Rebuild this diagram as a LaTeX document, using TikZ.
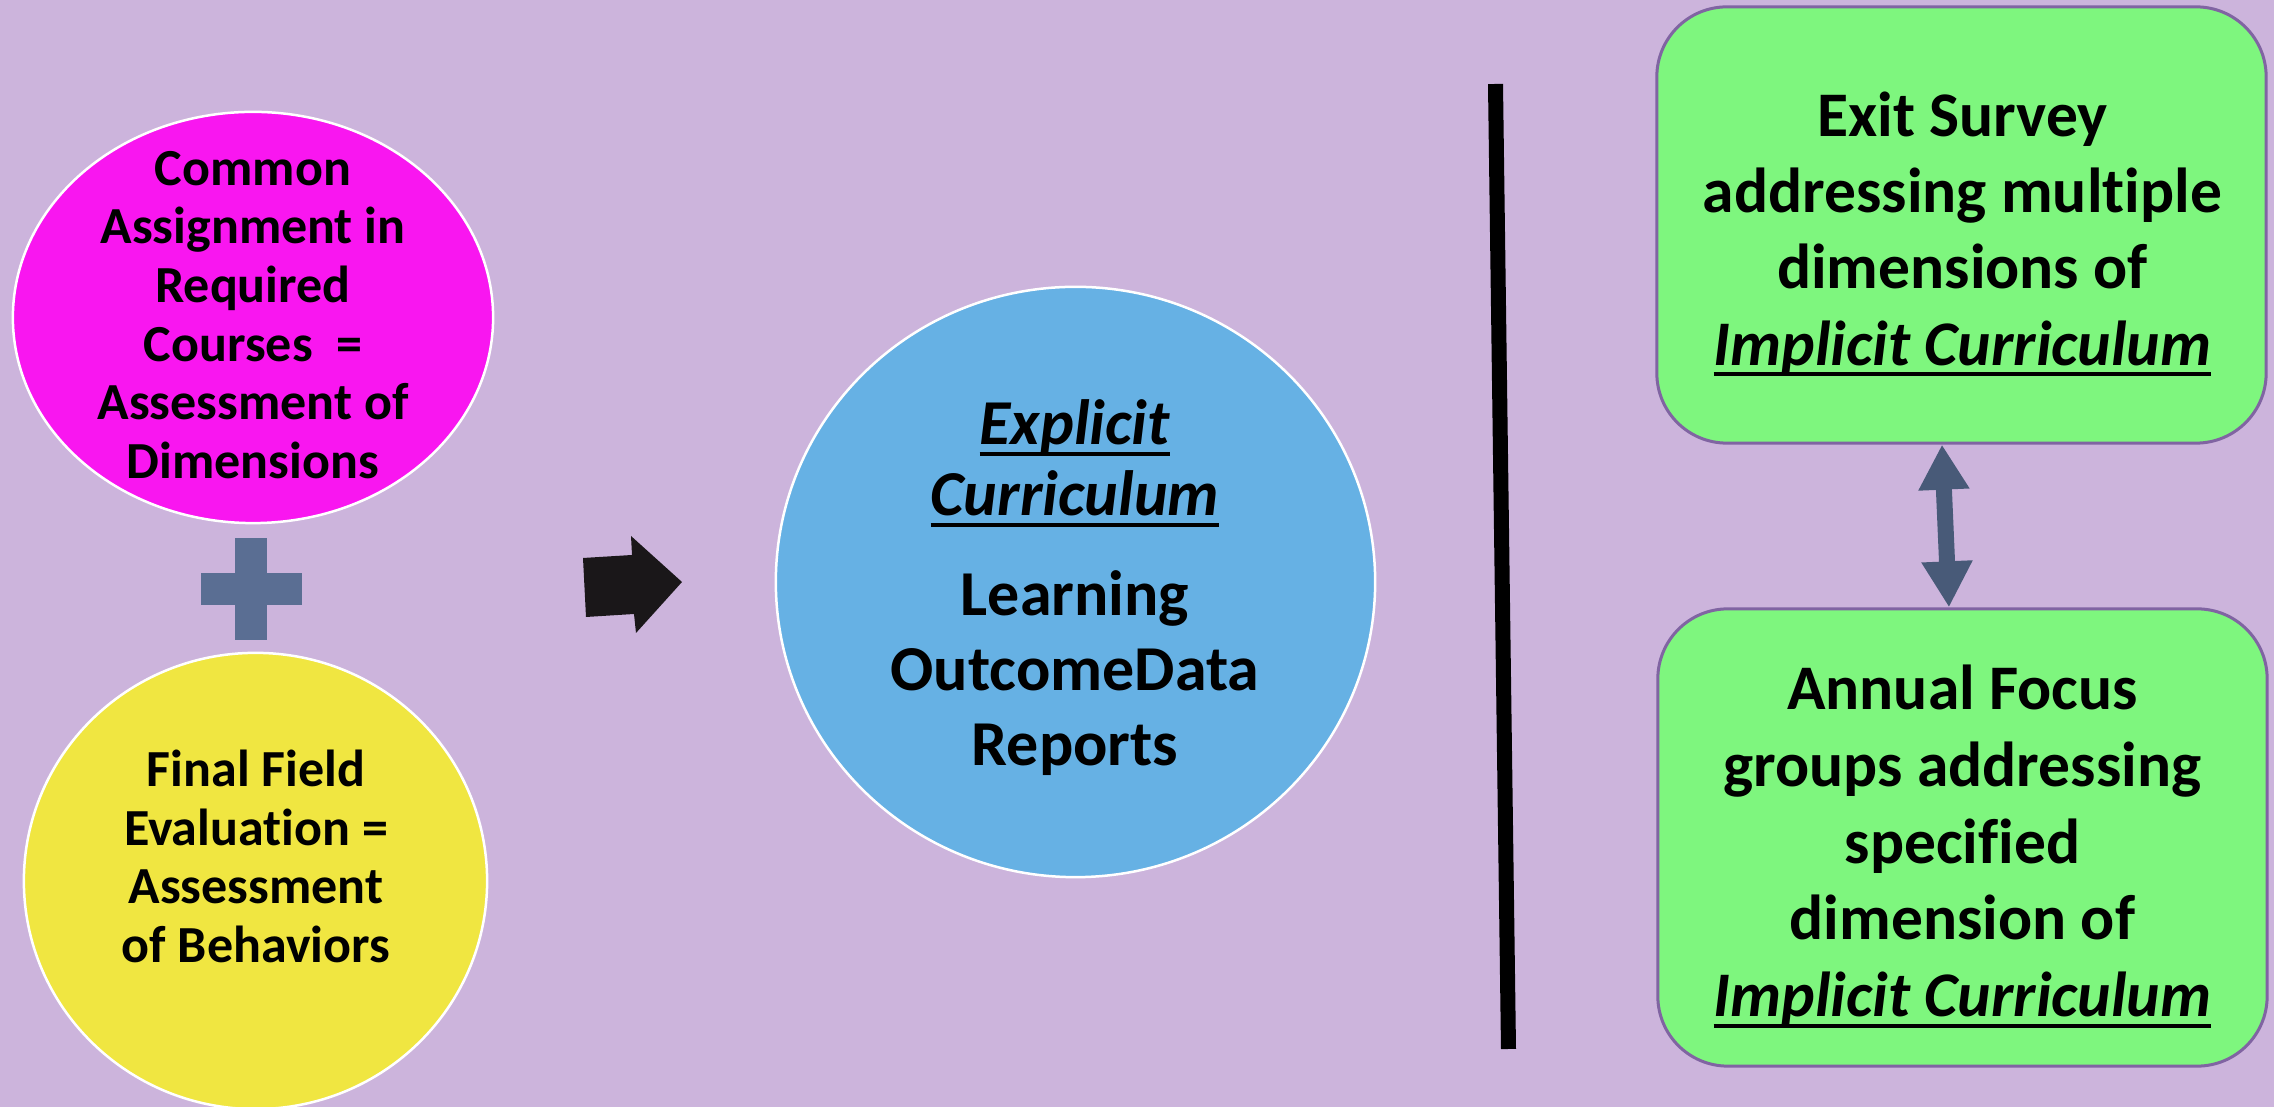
\documentclass[tikz,border=0pt]{standalone}
\usepackage{fontspec}
\setmainfont[Ligatures={NoCommon}]{Carlito}
\usetikzlibrary{shapes.geometric,arrows.meta}
\definecolor{bgc}{HTML}{CCB4DC}
\definecolor{magc}{HTML}{F916F0}
\definecolor{yelc}{HTML}{F0E641}
\definecolor{bluc}{HTML}{66B1E4}
\definecolor{grnc}{HTML}{7EF67E}
\definecolor{gbord}{HTML}{8064A2}
\definecolor{plusc}{HTML}{5A6E93}
\definecolor{darrc}{HTML}{485A78}
\definecolor{blk}{HTML}{1A1719}
\newcommand\ulx[1]{\setbox0\hbox{#1}\leavevmode\rlap{\rule[-0.11cm]{\wd0}{0.04cm}}\box0}
\begin{document}
\begin{tikzpicture}[x=0.01cm,y=-0.01cm,
  circ/.style={ellipse, inner sep=0pt, draw=white, line width=0.025cm},
  txtS/.style={align=center, inner sep=0pt, font=\fontsize{14.8}{16.67}\selectfont\bfseries},
  txtL/.style={align=center, inner sep=0pt, font=\fontsize{18.2}{21.3}\selectfont\bfseries},
  txtG/.style={align=center, inner sep=0pt, font=\fontsize{18.07}{21.7}\selectfont\bfseries},
  gbox/.style={rectangle, rounded corners=0.7cm, fill=grnc, draw=gbord, line width=0.03cm,
    minimum width=6.09cm, minimum height=4.36cm, inner sep=0pt},
  darr/.style={draw=darrc, line width=0.16cm,
    {Triangle[length=0.45cm,width=0.48cm,fill=darrc]}-{Triangle[length=0.46cm,width=0.48cm,fill=darrc]}}]
\fill[bgc] (0,0) rectangle (2274,1107);
\useasboundingbox (0,0) rectangle (2274,1107);

% left ellipses
\node[circ, fill=magc, minimum width=4.80cm, minimum height=4.11cm] (mag) at (253,317.5) {};
\node[txtS] (magt) at (253,315) {Common\\Assignment in\\Required\\Courses\ \ =\\Assessment of\\Dimensions};
\node[circ, fill=yelc, minimum width=4.63cm, minimum height=4.56cm] (yel) at (255.5,881) {};
\node[txtS] (yelt) at (256,856.5) {Final Field\\Evaluation =\\Assessment\\of Behaviors};

% plus sign
\fill[plusc] (235,538) rectangle (267,640);
\fill[plusc] (201,573) rectangle (302,605);

% block arrow
\fill[blk] (583,558) -- (632,555) -- (631,536) -- (682,582) -- (636,633) -- (634,614) -- (586,617) -- cycle;

% blue circle
\node[circ, fill=bluc, minimum width=5.99cm, minimum height=5.90cm] (blu) at (1075.5,582) {};
\node[txtL] (blut) at (1075,587.5) {\ulx{\textit{Explicit}}\\[-0.04cm]\ulx{\textit{Curriculum}}\\[0.25cm]Learning\\OutcomeData\\Reports};

% divider
\draw[black, line width=0.15cm] (1495.5,84) -- (1508.5,1049);

% green boxes
\node[gbox] (exit) at (1961.5,225) {};
\node[txtG] (exitt) at (1962.5,234) {Exit Survey\\addressing multiple\\dimensions of\\\ulx{\textit{Implicit Curriculum}}};
\node[gbox, minimum height=4.57cm] (focus) at (1962.5,837.5) {};
\node[txtG, font=\fontsize{18.07}{21.8}\selectfont\bfseries] (focust) at (1962.5,846.5) {Annual Focus\\groups addressing\\specified\\dimension of\\\ulx{\textit{Implicit Curriculum}}};

% double arrow
\draw[darr] ([xshift=-0.195cm]exit.south) -- ([xshift=-0.135cm]focus.north);
\end{tikzpicture}
\end{document}
